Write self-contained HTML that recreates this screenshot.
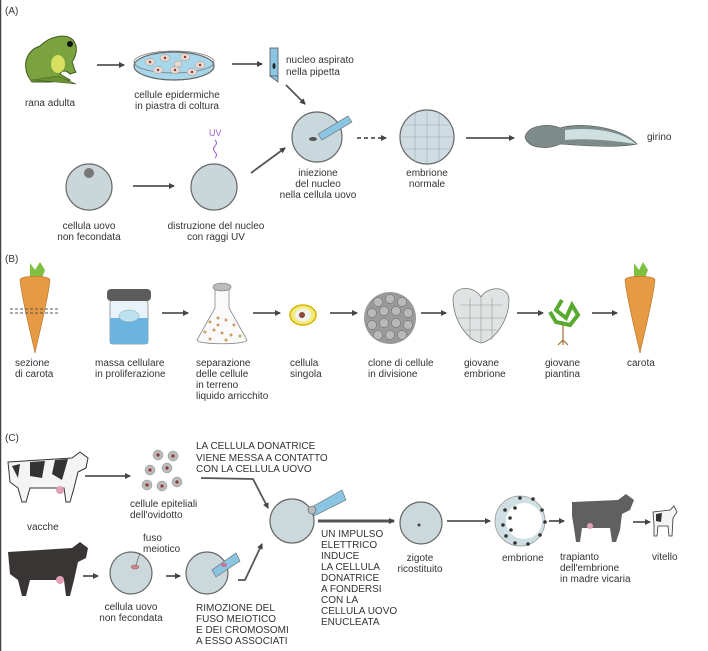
<!DOCTYPE html>
<html><head><meta charset="utf-8"><style>
html,body{margin:0;padding:0;background:#fff;}
svg{display:block;}
text{font-family:"Liberation Sans Narrow","Liberation Sans",sans-serif;font-size:10px;fill:#333;}
</style></head><body>
<svg width="708" height="651" viewBox="0 0 708 651" xmlns="http://www.w3.org/2000/svg">
<defs>
<marker id="ah" markerWidth="6" markerHeight="6" refX="5" refY="3" orient="auto" markerUnits="userSpaceOnUse"><path d="M0,0 L6,3 L0,6 Z" fill="#444"/></marker>
</defs>
<line x1="0.5" y1="0" x2="0.5" y2="651" stroke="#444" stroke-width="1.5"/>
<g stroke="#555" stroke-width="1.8" fill="none">
<line x1="97" y1="65" x2="124" y2="65" marker-end="url(#ah)"/>
<line x1="232" y1="64" x2="262" y2="64" marker-end="url(#ah)"/>
<line x1="286" y1="85" x2="305" y2="104" marker-end="url(#ah)"/>
<line x1="357" y1="138" x2="386" y2="138" stroke-dasharray="4,3" marker-end="url(#ah)"/>
<line x1="466" y1="138" x2="514" y2="138" marker-end="url(#ah)"/>
<line x1="133" y1="186" x2="174" y2="186" marker-end="url(#ah)"/>
<line x1="251" y1="173" x2="285" y2="148" marker-end="url(#ah)"/>
<line x1="162" y1="313" x2="188" y2="313" marker-end="url(#ah)"/>
<line x1="253" y1="313" x2="280" y2="313" marker-end="url(#ah)"/>
<line x1="330" y1="313" x2="357" y2="313" marker-end="url(#ah)"/>
<line x1="421" y1="313" x2="446" y2="313" marker-end="url(#ah)"/>
<line x1="517" y1="313" x2="543" y2="313" marker-end="url(#ah)"/>
<line x1="592" y1="313" x2="617" y2="313" marker-end="url(#ah)"/>
<line x1="85" y1="476" x2="130" y2="476" marker-end="url(#ah)"/>
<polyline points="201,478 253,479 268,508" marker-end="url(#ah)"/>
<line x1="83" y1="576" x2="98" y2="576" marker-end="url(#ah)"/>
<line x1="166" y1="576" x2="180" y2="576" marker-end="url(#ah)"/>
<polyline points="238,580 245,580 262,544" marker-end="url(#ah)"/>
<line x1="318" y1="521" x2="394" y2="521" stroke-width="3" marker-end="url(#ah)"/>
<line x1="447" y1="521" x2="490" y2="521" marker-end="url(#ah)"/>
<line x1="549" y1="521" x2="564" y2="521" marker-end="url(#ah)"/>
<line x1="633" y1="522" x2="650" y2="522" marker-end="url(#ah)"/>
</g>
<g>
<path d="M28,76 C22,62 28,50 40,46 C50,36 66,33 73,40 C79,47 76,56 72,62 C74,66 74,70 76,72 L70,74 C66,70 62,70 60,74 L70,80 L50,82 L32,82 Z" fill="#7aa23e" stroke="#3e5a1e" stroke-width="1"/>
<path d="M32,80 L56,82 L76,84 L58,76 Z" fill="#6a9232" stroke="#3e5a1e" stroke-width="0.6"/>
<ellipse cx="58" cy="64" rx="7" ry="9" fill="#d8e060"/>
<circle cx="70" cy="44" r="3" fill="#111"/>
<ellipse cx="174" cy="66" rx="40" ry="14" fill="#a8d6ea" stroke="#666" stroke-width="1.2"/>
<ellipse cx="174" cy="62" rx="40" ry="11" fill="none" stroke="#777" stroke-width="0.8"/>
<g fill="#e9d7d0" stroke="#999" stroke-width="0.5">
<ellipse cx="150" cy="62" rx="5" ry="3.5"/><ellipse cx="165" cy="58" rx="5" ry="3.5"/><ellipse cx="185" cy="57" rx="5" ry="3.5"/><ellipse cx="200" cy="65" rx="5" ry="3.5"/><ellipse cx="158" cy="70" rx="5" ry="3.5"/><ellipse cx="175" cy="70" rx="5" ry="3.5"/><ellipse cx="192" cy="72" rx="5" ry="3.5"/><ellipse cx="178" cy="64" rx="4" ry="3"/>
</g>
<g fill="#8a3a30"><circle cx="150" cy="62" r="1.2"/><circle cx="165" cy="58" r="1.2"/><circle cx="185" cy="57" r="1.2"/><circle cx="200" cy="65" r="1.2"/><circle cx="158" cy="70" r="1.2"/><circle cx="175" cy="70" r="1.2"/><circle cx="192" cy="72" r="1.2"/></g>
<rect x="270" y="48" width="8" height="28" fill="#8ac6e4" stroke="#555" stroke-width="0.8"/>
<path d="M270,76 L278,76 L278,82 Z" fill="#8ac6e4" stroke="#555" stroke-width="0.8"/>
<ellipse cx="274" cy="66" rx="1.5" ry="3" fill="#222"/>
<circle cx="317" cy="137" r="25" fill="#c9d8dc" stroke="#666" stroke-width="1.2"/>
<ellipse cx="313" cy="139" rx="4" ry="2" fill="#555"/>
<path d="M318,134 L348,116 L352,122 L322,140 Z" fill="#8ac6e4" stroke="#666" stroke-width="0.6"/>
<circle cx="427" cy="137" r="27" fill="#cfdde2" stroke="#666" stroke-width="1.2"/>
<path d="M402,125 L452,125 M400,137 L454,137 M402,149 L452,149 M415,112 L415,162 M427,110 L427,164 M439,112 L439,162" stroke="#9aabb0" stroke-width="0.6"/>
<path d="M525,137 C528,125 548,123 560,128 C580,122 620,126 637,144 C620,148 585,146 560,144 C548,150 528,149 525,137 Z" fill="#7d8b8b" stroke="#555" stroke-width="0.6"/>
<path d="M565,130 C590,127 620,130 636,144 C610,140 585,138 565,140 Z" fill="#cfe0e0"/>
<circle cx="89" cy="187" r="23" fill="#c9d6da" stroke="#666" stroke-width="1.2"/>
<circle cx="89" cy="173" r="5" fill="#777"/>
<circle cx="214" cy="187" r="23" fill="#c9d6da" stroke="#666" stroke-width="1.2"/>
<path d="M215,140 q3,3 0,6 q-3,3 0,6 q3,3 0,6" stroke="#9a5fc8" fill="none" stroke-width="1"/>
<text x="209" y="136" style="fill:#9a5fc8;font-size:9px">UV</text>
</g>
<g>
<path d="M30,263 L35,270 L40,262 L45,270 L42,278 L30,278 Z" fill="#7fc040"/>
<path d="M20,280 C20,275 50,275 50,280 C48,300 40,330 35,353 C30,330 22,300 20,280 Z" fill="#e69a44" stroke="#b86a20" stroke-width="0.6"/>
<path d="M10,309 H58 M10,313 H58" stroke="#555" stroke-width="1" stroke-dasharray="3,2"/>
<rect x="110" y="300" width="38" height="44" rx="3" fill="#e8f4fa" stroke="#888" stroke-width="0.8"/>
<rect x="110" y="318" width="38" height="26" fill="#6ab4df"/>
<ellipse cx="129" cy="316" rx="10" ry="6" fill="#bfe0ef" stroke="#7aa" stroke-width="0.5"/>
<rect x="107" y="289" width="44" height="12" rx="4" fill="#5c5c5c"/>
<path d="M215,290 L215,308 L197,340 C197,345 247,345 247,340 L229,308 L229,290 Z" fill="#fafafa" stroke="#888" stroke-width="0.8"/>
<ellipse cx="222" cy="287" rx="9" ry="4" fill="#bbb" stroke="#777" stroke-width="0.6"/>
<g fill="#c8a060"><circle cx="210" cy="322" r="1.5"/><circle cx="218" cy="318" r="1.5"/><circle cx="226" cy="320" r="1.5"/><circle cx="234" cy="325" r="1.5"/><circle cx="205" cy="332" r="1.5"/><circle cx="214" cy="330" r="1.5"/><circle cx="222" cy="333" r="1.5"/><circle cx="231" cy="335" r="1.5"/><circle cx="240" cy="336" r="1.5"/><circle cx="210" cy="339" r="1.5"/><circle cx="226" cy="340" r="1.5"/><circle cx="218" cy="325" r="1.5"/></g>
<ellipse cx="303" cy="315" rx="13" ry="10" fill="#f2ea7a" stroke="#d4b400" stroke-width="1.5"/>
<ellipse cx="303" cy="315" rx="8" ry="6.5" fill="#f1f1ee"/>
<circle cx="302" cy="315" r="3" fill="#8a4a3a"/>
<circle cx="390" cy="318" r="26" fill="#9a9a9a"/>
<g fill="#b9b9b9" stroke="#666" stroke-width="0.5">
<circle cx="378" cy="302" r="4.5"/><circle cx="390" cy="299" r="4.5"/><circle cx="402" cy="302" r="4.5"/><circle cx="372" cy="313" r="4.5"/><circle cx="384" cy="311" r="4.5"/><circle cx="396" cy="311" r="4.5"/><circle cx="408" cy="313" r="4.5"/><circle cx="372" cy="325" r="4.5"/><circle cx="384" cy="323" r="4.5"/><circle cx="396" cy="323" r="4.5"/><circle cx="408" cy="325" r="4.5"/><circle cx="378" cy="335" r="4.5"/><circle cx="390" cy="335" r="4.5"/><circle cx="402" cy="335" r="4.5"/></g>
<path d="M453,298 C455,285 475,286 481,297 C487,286 509,285 509,300 C509,320 495,340 481,343 C467,340 453,320 453,298 Z" fill="#dfe3e3" stroke="#777" stroke-width="0.8"/>
<path d="M460,305 H503 M458,318 H505 M465,330 H497 M470,298 V340 M481,298 V343 M492,298 V340" stroke="#999" stroke-width="0.6"/>
<path d="M562,300 L556,310 L566,318 L572,305 L578,315 L570,325 L556,322 L550,312" stroke="#5aaa30" stroke-width="4" fill="none"/>
<path d="M563,325 V345 M563,340 l-5,5 M563,340 l5,5" stroke="#a07030" stroke-width="1.2"/>
<path d="M634,263 L639,270 L643,262 L648,270 L645,278 L634,278 Z" fill="#7fc040"/>
<path d="M625,280 C625,275 655,275 655,280 C653,300 645,330 640,353 C635,330 627,300 625,280 Z" fill="#e69a44" stroke="#b86a20" stroke-width="0.6"/>
</g>
<g>
<path d="M8,462 L72,458 L80,452 L88,458 L86,468 L78,472 L74,488 L70,502 L66,502 L64,488 L30,488 L26,502 L22,502 L18,488 L10,482 Z" fill="#f4f4f4" stroke="#333" stroke-width="1"/>
<path d="M30,462 L45,461 L42,478 L30,476 Z M55,460 L68,459 L62,480 L52,474 Z M12,466 L20,464 L18,478 Z" fill="#333"/>
<ellipse cx="60" cy="490" rx="4" ry="4" fill="#e0a0b8"/>
<g fill="#bbb" stroke="#888" stroke-width="0.5">
<circle cx="158" cy="455" r="5"/><circle cx="173" cy="456" r="5"/><circle cx="150" cy="470" r="5"/><circle cx="167" cy="468" r="5"/><circle cx="147" cy="485" r="5"/><circle cx="162" cy="486" r="5"/><circle cx="177" cy="482" r="5"/></g>
<g fill="#8a3a30"><circle cx="158" cy="455" r="1.6"/><circle cx="173" cy="456" r="1.6"/><circle cx="150" cy="470" r="1.6"/><circle cx="167" cy="468" r="1.6"/><circle cx="147" cy="485" r="1.6"/><circle cx="162" cy="486" r="1.6"/><circle cx="177" cy="482" r="1.6"/></g>
<path d="M8,552 L72,548 L80,542 L88,548 L86,558 L78,562 L74,580 L70,596 L66,596 L64,580 L30,580 L26,596 L22,596 L18,580 L10,574 Z" fill="#3a3535"/>
<ellipse cx="60" cy="580" rx="4" ry="4" fill="#e0a0b8"/>
<circle cx="131" cy="573" r="21" fill="#cbd9dd" stroke="#666" stroke-width="1.2"/>
<ellipse cx="135" cy="567" rx="4" ry="2" fill="#c88" stroke="#844" stroke-width="0.4"/>
<line x1="140" y1="553" x2="136" y2="565" stroke="#555" stroke-width="0.6"/>
<circle cx="207" cy="573" r="21" fill="#cbd9dd" stroke="#666" stroke-width="1.2"/>
<path d="M212,570 L236,553 L240,561 L216,577 Z" fill="#8ac6e4" stroke="#666" stroke-width="0.6"/>
<ellipse cx="224" cy="565" rx="3" ry="2" fill="#d07090"/>
<circle cx="292" cy="521" r="22" fill="#cbd9dd" stroke="#666" stroke-width="1.2"/>
<path d="M310,508 L342,490 L346,500 L314,516 Z" fill="#8ac6e4" stroke="#666" stroke-width="0.6"/>
<circle cx="312" cy="510" r="4" fill="#bbb" stroke="#555" stroke-width="0.6"/>
<circle cx="421" cy="523" r="21" fill="#cbd9dd" stroke="#666" stroke-width="1.2"/>
<circle cx="419" cy="525" r="1.5" fill="#444"/>
<circle cx="520" cy="521" r="25" fill="#cfdfe3" stroke="#999" stroke-width="0.8"/>
<circle cx="524" cy="521" r="18" fill="#fff"/>
<g fill="#333"><circle cx="505" cy="510" r="1.8"/><circle cx="510" cy="518" r="1.8"/><circle cx="503" cy="525" r="1.8"/><circle cx="511" cy="530" r="1.8"/><circle cx="506" cy="536" r="1.8"/><circle cx="515" cy="508" r="1.8"/><circle cx="520" cy="498" r="1.8"/><circle cx="533" cy="499" r="1.8"/><circle cx="542" cy="510" r="1.8"/><circle cx="545" cy="522" r="1.8"/><circle cx="540" cy="535" r="1.8"/><circle cx="528" cy="544" r="1.8"/><circle cx="515" cy="543" r="1.8"/></g>
<path d="M572,502 L618,500 L626,494 L634,500 L630,510 L622,514 L620,530 L616,542 L612,542 L610,528 L582,528 L580,542 L576,542 L574,528 L572,516 Z" fill="#606060"/>
<ellipse cx="590" cy="526" rx="3" ry="3" fill="#e0a0b8"/>
<path d="M653,512 L670,510 L674,506 L677,512 L673,518 L672,536 L669,536 L668,526 L658,526 L657,536 L654,536 L654,524 Z" fill="#f4f4f4" stroke="#333" stroke-width="0.8"/>
<path d="M656,514 L662,513 L661,522 L656,521 Z" fill="#333"/>
</g>
<text x="5" y="14">(A)</text>
<text x="50" y="106" text-anchor="middle">rana adulta</text>
<text x="177" y="98" text-anchor="middle">cellule epidermiche</text>
<text x="177" y="109" text-anchor="middle">in piastra di coltura</text>
<text x="286" y="63">nucleo aspirato</text>
<text x="286" y="75">nella pipetta</text>
<text x="318" y="176" text-anchor="middle">iniezione</text>
<text x="318" y="187" text-anchor="middle">del nucleo</text>
<text x="318" y="198" text-anchor="middle">nella cellula uovo</text>
<text x="427" y="176" text-anchor="middle">embrione</text>
<text x="427" y="187" text-anchor="middle">normale</text>
<text x="647" y="140">girino</text>
<text x="89" y="229" text-anchor="middle">cellula uovo</text>
<text x="89" y="240" text-anchor="middle">non fecondata</text>
<text x="216" y="229" text-anchor="middle">distruzione del nucleo</text>
<text x="216" y="240" text-anchor="middle">con raggi UV</text>
<text x="5" y="262">(B)</text>
<text x="15" y="366">sezione</text><text x="15" y="377">di carota</text>
<text x="95" y="366">massa cellulare</text><text x="95" y="377">in proliferazione</text>
<text x="196" y="366">separazione</text><text x="196" y="377">delle cellule</text><text x="196" y="388">in terreno</text><text x="196" y="399">liquido arricchito</text>
<text x="290" y="366">cellula</text><text x="290" y="377">singola</text>
<text x="368" y="366">clone di cellule</text><text x="368" y="377">in divisione</text>
<text x="464" y="366">giovane</text><text x="464" y="377">embrione</text>
<text x="545" y="366">giovane</text><text x="545" y="377">piantina</text>
<text x="627" y="366">carota</text>
<text x="5" y="441">(C)</text>
<text x="196" y="449">LA CELLULA DONATRICE</text>
<text x="196" y="461">VIENE MESSA A CONTATTO</text>
<text x="196" y="472">CON LA CELLULA UOVO</text>
<text x="130" y="507">cellule epiteliali</text>
<text x="130" y="518">dell'ovidotto</text>
<text x="27" y="530">vacche</text>
<text x="143" y="541">fuso</text>
<text x="143" y="552">meiotico</text>
<text x="321" y="537">UN IMPULSO</text>
<text x="321" y="548">ELETTRICO</text>
<text x="321" y="559">INDUCE</text>
<text x="321" y="570">LA CELLULA</text>
<text x="321" y="581">DONATRICE</text>
<text x="321" y="592">A FONDERSI</text>
<text x="321" y="603">CON LA</text>
<text x="321" y="614">CELLULA UOVO</text>
<text x="321" y="625">ENUCLEATA</text>
<text x="420" y="561" text-anchor="middle">zigote</text>
<text x="420" y="572" text-anchor="middle">ricostituito</text>
<text x="502" y="561">embrione</text>
<text x="560" y="560">trapianto</text>
<text x="560" y="571">dell'embrione</text>
<text x="560" y="582">in madre vicaria</text>
<text x="652" y="560">vitello</text>
<text x="131" y="610" text-anchor="middle">cellula uovo</text>
<text x="131" y="621" text-anchor="middle">non fecondata</text>
<text x="196" y="611">RIMOZIONE DEL</text>
<text x="196" y="622">FUSO MEIOTICO</text>
<text x="196" y="633">E DEI CROMOSOMI</text>
<text x="196" y="644">A ESSO ASSOCIATI</text>
</svg>
</body></html>
